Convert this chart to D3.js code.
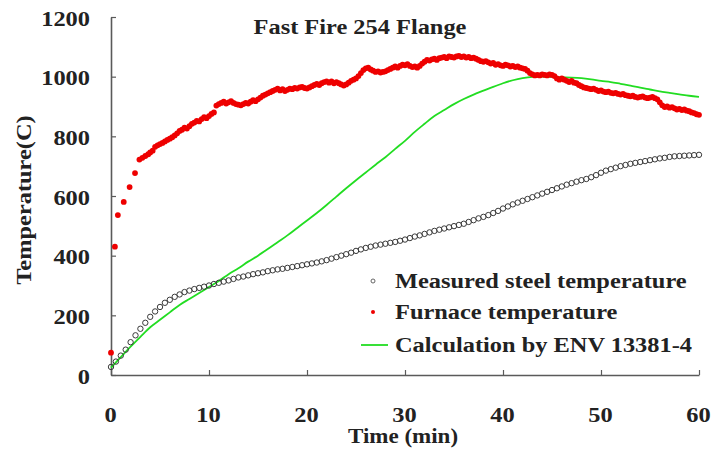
<!DOCTYPE html>
<html>
<head>
<meta charset="utf-8">
<script src="https://cdn.jsdelivr.net/npm/d3@7"></script>
<style>
  html, body { margin: 0; padding: 0; background: #fff; }
  svg text { font-family: "Liberation Serif", "Times New Roman", serif; font-weight: bold; fill: #222; }
</style>
</head>
<body>
<svg id="chart" width="713" height="454"></svg>
<script>
// ---------- data ----------
const chartTitle = "Fast Fire 254 Flange";
const xTicks = [0, 10, 20, 30, 40, 50, 60];
const yTicks = [0, 200, 400, 600, 800, 1000, 1200];

// Measured steel temperature (every 0.5 min, 0..60)
const steelTime = d3.range(0, 60.001, 0.5);
const steelTemp = [
  27, 45, 65, 85, 110, 133, 155, 175, 195, 213, 228, 242, 252, 262, 270, 278, 283, 288, 292, 296,
  300, 305, 309, 313, 317, 322, 327, 330, 334, 338, 341, 344, 348, 351, 354, 356, 359, 362, 365, 368,
  371, 374, 377, 381, 385, 390, 395, 400, 405, 410, 416, 421, 426, 430, 434, 437, 440, 443, 446, 450,
  454, 459, 464, 468, 473, 478, 483, 487, 491, 495, 499, 503, 507, 513, 519, 525, 530, 536, 543, 550,
  558, 565, 572, 578, 584, 590, 596, 602, 608, 614, 620, 626, 632, 638, 643, 648, 653, 657, 663, 670,
  678, 685, 690, 695, 700, 704, 708, 711, 714, 717, 720, 723, 726, 728, 731, 733, 734, 735, 736, 737,
  738
];

// Furnace temperature: sparse start, then every 0.25 min from 4 to 60
const furnaceStartTime = [0, 0.4, 0.7, 1.3, 1.9, 2.45, 2.9, 3.2, 3.5, 3.8];
const furnaceStartTemp = [75, 430, 536, 580, 630, 677, 722, 728, 734, 740];
const furnaceGridTime = d3.range(4, 60.001, 0.25);
const furnaceGridTemp = [
  746, 752, 765, 770,   774, 778, 783, 788,   792, 797, 803, 810,   818, 822, 829, 826,
  834, 842, 846, 852,   850, 858, 864, 861,   868, 875, 880, 903,   908, 912, 916, 910,
  914, 918, 912, 908,   906, 904, 908, 912,   910, 916, 921, 918,   924, 930, 936, 940,
  944, 948, 952, 956,   960, 954, 958, 952,   956, 960, 958, 962,   960, 964, 966, 962,
  960, 964, 968, 972,   976, 972, 978, 982,   984, 980, 984, 978,   982, 978, 974, 970,
  974, 980, 986, 990,   994, 1002, 1012, 1022, 1028, 1030, 1024, 1020, 1016, 1018, 1014, 1016,
  1018, 1022, 1026, 1030, 1034, 1030, 1036, 1040, 1038, 1042, 1036, 1032, 1034, 1030, 1036, 1044,
  1050, 1056, 1054, 1058, 1060, 1056, 1062, 1064, 1066, 1062, 1068, 1066, 1064, 1068, 1070, 1066,
  1068, 1064, 1066, 1062, 1064, 1060, 1056, 1052, 1050, 1052, 1048, 1044, 1046, 1040, 1042, 1038,
  1036, 1040, 1038, 1034, 1036, 1032, 1034, 1030, 1028, 1026, 1020, 1012, 1008, 1004, 1006, 1004,
  1008, 1006, 1004, 1008, 1006, 1002, 994, 990,  994, 990, 986, 982,   986, 980, 978, 972,
  968, 964, 962, 960,   958, 960, 956, 952,   954, 950, 948, 950,   946, 944, 946, 942,
  940, 942, 938, 936,   934, 936, 932, 930,   932, 934, 930, 928,   930, 932, 928, 924,
  914, 904, 898, 900,   896, 898, 894, 890,   892, 888, 890, 886,   884, 880, 878, 874,
  872
];

// Calculation by ENV 13381-4 (every 1 min, 0..60)
const calcTime = d3.range(0, 60.001, 1);
const calcTemp = [
  25, 60, 95, 128, 160, 185, 210, 235, 255, 275, 295, 315, 338, 358, 380, 400, 422, 445, 468, 493,
  518, 543, 570, 598, 626, 653, 679, 705, 730, 758, 785, 815, 842, 868, 888, 908, 925, 940, 953, 966,
  978, 988, 995, 999, 1000, 999, 998, 997, 995, 991, 986, 982, 976, 970, 963, 957, 951, 946, 941, 936,
  932
];

const legendLabels = ["Measured steel temperature", "Furnace temperature", "Calculation by ENV 13381-4"];

// ---------- chart ----------
const svg = d3.select("#chart");
const FS = 20, SX = 1.22;
const x = d3.scaleLinear().domain([0, 60]).range([111, 699]);
const y = d3.scaleLinear().domain([0, 1200]).range([375, 17]);

const axisColor = "#5a5a5a";

// y axis
const gy = svg.append("g").attr("transform", `translate(${x(0)},0)`)
  .call(d3.axisLeft(y).tickValues(yTicks).tickSizeInner(-5).tickSizeOuter(0).tickFormat(d3.format("d")));
gy.select(".domain").attr("stroke", axisColor).attr("stroke-width", 1.6);
gy.selectAll(".tick line").attr("stroke", axisColor).attr("stroke-width", 1.2);
gy.selectAll(".tick text")
  .attr("x", null).attr("dy", null).attr("y", null)
  .attr("text-anchor", "end")
  .attr("font-family", null).attr("font-size", FS)
  .attr("fill", "#222")
  .attr("transform", `translate(-21,8) scale(${SX},1)`);

// x axis
const gx = svg.append("g").attr("transform", `translate(0,${y(0)})`)
  .call(d3.axisBottom(x).tickValues(xTicks).tickSizeInner(-5).tickSizeOuter(0).tickFormat(d3.format("d")));
gx.select(".domain").attr("stroke", axisColor).attr("stroke-width", 1.6);
gx.selectAll(".tick line").attr("stroke", axisColor).attr("stroke-width", 1.2);
gx.selectAll(".tick text")
  .attr("x", null).attr("dy", null).attr("y", null)
  .attr("text-anchor", "middle")
  .attr("font-family", null).attr("font-size", FS)
  .attr("fill", "#222")
  .attr("transform", `translate(-1,47) scale(${SX},1)`);

// title & axis titles
svg.append("text").attr("font-size", FS).attr("text-anchor", "middle")
  .attr("transform", `translate(360,34) scale(${SX},1)`).text(chartTitle);
svg.append("text").attr("font-size", FS).attr("text-anchor", "middle")
  .attr("transform", `translate(403,443) scale(1.15,1)`).text("Time (min)");
svg.append("text").attr("font-size", FS).attr("text-anchor", "middle")
  .attr("transform", `translate(31,200) rotate(-90) scale(${SX},1)`).text("Temperature(C)");

// calculation line
const line = d3.line().x(d => x(d[0])).y(d => y(d[1])).curve(d3.curveMonotoneX);
svg.append("path").datum(calcTime.map((t, i) => [t, calcTemp[i]]))
  .attr("d", line).attr("fill", "none").attr("stroke", "#22dd22").attr("stroke-width", 1.8);

// steel measured
svg.append("g").selectAll("circle").data(steelTime.map((t, i) => [t, steelTemp[i]]))
  .join("circle").attr("cx", d => x(d[0])).attr("cy", d => y(d[1])).attr("r", 2.7)
  .attr("fill", "none").attr("stroke", "#3a3a3a").attr("stroke-width", 1);

// furnace
const furnace = furnaceStartTime.map((t, i) => [t, furnaceStartTemp[i]])
  .concat(furnaceGridTime.map((t, i) => [t, furnaceGridTemp[i]]));
svg.append("g").selectAll("circle").data(furnace)
  .join("circle").attr("cx", d => x(d[0])).attr("cy", d => y(d[1])).attr("r", 2.9)
  .attr("fill", "#ee0000");

// legend
const lg = svg.append("g");
const rowsY = [281, 312, 345];
lg.append("circle").attr("cx", 373).attr("cy", rowsY[0]).attr("r", 2).attr("fill", "none").attr("stroke", "#555").attr("stroke-width", 0.9);
lg.append("circle").attr("cx", 373).attr("cy", rowsY[1]).attr("r", 2).attr("fill", "#ee0000");
lg.append("line").attr("x1", 361).attr("x2", 388).attr("y1", rowsY[2]).attr("y2", rowsY[2]).attr("stroke", "#22dd22").attr("stroke-width", 1.8);
legendLabels.forEach((s, i) => {
  lg.append("text").attr("font-size", FS)
    .attr("transform", `translate(395,${rowsY[i] + 7}) scale(${SX},1)`).text(s);
});
</script>
</body>
</html>
